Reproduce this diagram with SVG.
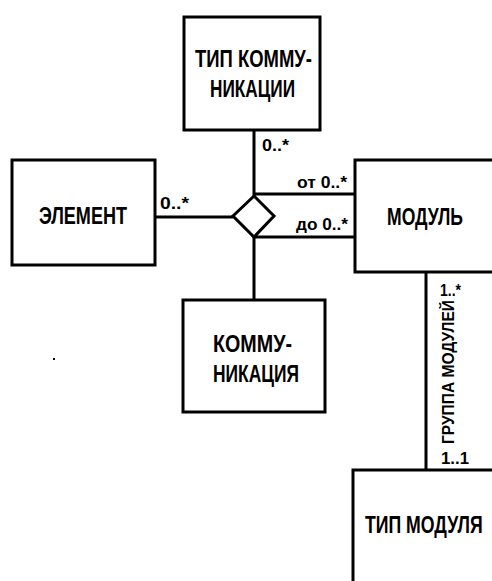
<svg xmlns="http://www.w3.org/2000/svg" width="492" height="581" viewBox="0 0 492 581">
<style>
.box{fill:#fff;stroke:#000;stroke-width:3}
.ln{stroke:#000;stroke-width:3;fill:none}
.t{font-family:"Liberation Sans",Arial,sans-serif;font-size:23px;font-weight:bold;fill:#000}
.s{font-family:"Liberation Sans",Arial,sans-serif;font-size:16px;font-weight:bold;fill:#000}
</style>
<rect width="492" height="581" fill="#fff"/>
<g id="connectors">
<line class="ln" x1="254" y1="130" x2="254" y2="196"/>
<line class="ln" x1="155" y1="217" x2="233" y2="217"/>
<line class="ln" x1="254" y1="194" x2="355" y2="194"/>
<line class="ln" x1="254" y1="237" x2="355" y2="237"/>
<line class="ln" x1="254" y1="237" x2="254" y2="300"/>
<line class="ln" x1="426" y1="272" x2="426" y2="470"/>
<polygon class="box" points="254,196 274,216 254,237 233,216"/>
<text class="s" x="262" y="151" textLength="27" lengthAdjust="spacingAndGlyphs">0..*</text>
<text class="s" x="160" y="209" textLength="29" lengthAdjust="spacingAndGlyphs">0..*</text>
<text class="s" x="297" y="188" textLength="50" lengthAdjust="spacingAndGlyphs">от 0..*</text>
<text class="s" x="296" y="230" textLength="52" lengthAdjust="spacingAndGlyphs">до 0..*</text>
<text class="s" x="440" y="296" textLength="21" lengthAdjust="spacingAndGlyphs">1..*</text>
<text class="s" x="441" y="464" textLength="28" lengthAdjust="spacingAndGlyphs">1..1</text>
<text class="s" style="font-size:17px" transform="translate(454,444) rotate(-90)" textLength="144" lengthAdjust="spacingAndGlyphs">ГРУППА МОДУЛЕЙ</text>
</g>
<g id="tip-kommunikacii">
<rect class="box" x="184" y="17" width="136" height="113"/>
<text class="t" x="195" y="67" textLength="117" lengthAdjust="spacingAndGlyphs">ТИП КОММУ-</text>
<text class="t" x="210" y="97" textLength="85" lengthAdjust="spacingAndGlyphs">НИКАЦИИ</text>
</g>
<g id="element">
<rect class="box" x="12" y="160" width="143" height="105"/>
<text class="t" x="39" y="224" textLength="88" lengthAdjust="spacingAndGlyphs">ЭЛЕМЕНТ</text>
</g>
<g id="modul">
<path class="box" d="M492,160 H355 V272 H492"/>
<text class="t" x="387" y="225" textLength="76" lengthAdjust="spacingAndGlyphs">МОДУЛЬ</text>
</g>
<g id="kommunikaciya">
<rect class="box" x="183" y="300" width="142" height="112"/>
<text class="t" x="213" y="352" textLength="79" lengthAdjust="spacingAndGlyphs">КОММУ-</text>
<text class="t" x="213" y="382" textLength="86" lengthAdjust="spacingAndGlyphs">НИКАЦИЯ</text>
</g>
<g id="tip-modulya">
<path class="box" d="M492,470 H353 V581"/>
<text class="t" transform="translate(365,533) scale(0.8,1)" textLength="147" lengthAdjust="spacingAndGlyphs">ТИП МОДУЛЯ</text>
</g>
<rect x="53" y="358" width="2" height="2" fill="#000"/>
</svg>
